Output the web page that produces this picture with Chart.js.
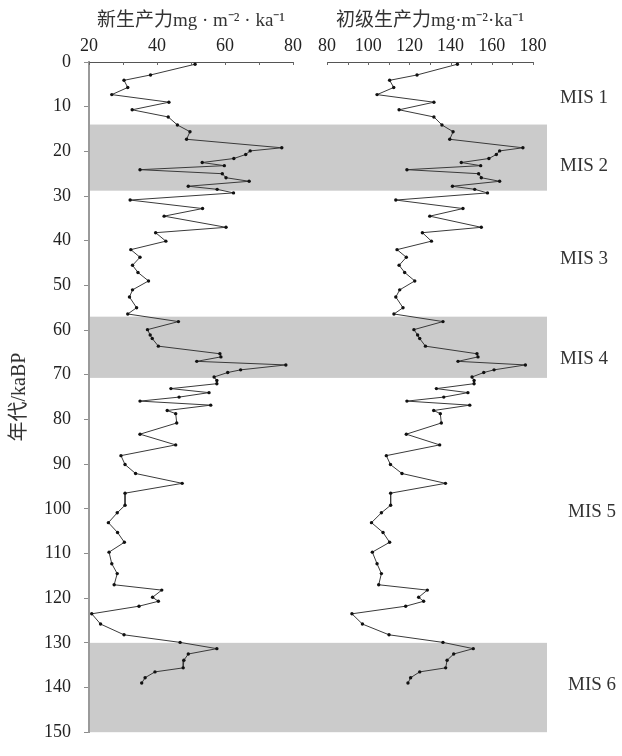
<!DOCTYPE html>
<html>
<head>
<meta charset="utf-8">
<script src="https://cdn.jsdelivr.net/npm/chart.js@4.4.1/dist/chart.umd.min.js"></script>
<style>
  html, body { margin: 0; padding: 0; background: #fff; }
  #wrap { width: 622px; height: 756px; }
</style>
</head>
<body>
<div id="wrap"><canvas id="profileChart" width="622" height="756"></canvas></div>
<script>
// sample ages (ka BP), shared by both curves
const ages = [
  0.5, 2.9, 4.1, 5.7, 7.3, 9.0, 10.7, 12.3, 14.1, 15.6,
  17.3, 19.2, 19.9, 20.7, 21.6, 22.5, 23.2, 24.1, 25.0, 25.9,
  26.7, 27.8, 28.5, 29.3, 30.9, 32.8, 34.5, 37.0, 38.2, 40.1,
  42.0, 43.7, 45.5, 47.1, 49.0, 51.0, 52.6, 55.0, 56.4, 58.1,
  59.9, 61.1, 61.9, 63.6, 65.3, 66.0, 67.0, 67.8, 68.9, 69.5,
  70.5, 71.3, 72.0, 73.1, 74.0, 75.0, 75.9, 76.8, 78.0, 78.7,
  80.8, 83.3, 85.7, 88.1, 90.1, 92.1, 94.3, 96.5, 99.2, 100.9,
  103.1, 105.3, 107.5, 109.7, 112.3, 114.5, 117.0, 118.2, 119.8, 120.7,
  121.8, 123.5, 125.8, 128.2, 129.9, 131.3, 132.5, 133.9, 135.6, 136.5,
  137.8, 139.0
];

// 新生产力 mg·m-2·ka-1
const newProd = [
  51.2, 38.1, 30.3, 31.4, 26.7, 43.5, 32.7, 43.3, 46.0, 49.7,
  48.7, 76.7, 67.4, 66.1, 62.6, 53.3, 59.8, 35.0, 59.2, 60.3,
  67.1, 49.2, 57.7, 62.5, 32.1, 53.4, 42.1, 60.3, 39.6, 42.6,
  32.3, 35.0, 32.8, 34.4, 37.5, 32.8, 31.9, 34.0, 31.4, 46.3,
  37.2, 38.0, 38.6, 40.4, 58.5, 58.8, 51.7, 77.9, 64.6, 60.8,
  56.8, 57.6, 57.6, 44.1, 55.3, 46.5, 35.0, 55.8, 43.0, 45.5,
  45.8, 35.0, 45.5, 29.4, 30.6, 33.7, 47.4, 30.6, 30.6, 28.3,
  25.7, 28.4, 30.4, 25.9, 26.7, 28.3, 27.4, 41.4, 38.7, 40.4,
  34.7, 20.8, 23.4, 30.3, 46.8, 57.6, 49.2, 47.9, 47.7, 39.4,
  36.5, 35.5
];

// 初级生产力 mg·m-2·ka-1
const primaryProd = [
  143.3, 123.7, 110.4, 112.4, 104.3, 131.9, 115.0, 131.9, 135.8, 141.2,
  139.6, 175.1, 163.8, 162.2, 158.6, 145.2, 154.6, 118.8, 153.6, 154.9,
  163.8, 140.9, 151.7, 157.9, 113.4, 146.0, 129.9, 154.9, 126.3, 130.7,
  114.0, 118.5, 115.0, 117.7, 122.6, 115.3, 113.4, 116.9, 112.5, 136.3,
  122.2, 124.0, 125.0, 127.8, 152.8, 153.3, 143.6, 176.3, 161.1, 156.1,
  150.4, 151.4, 151.4, 133.1, 148.4, 136.7, 118.8, 149.3, 131.8, 135.0,
  135.5, 118.5, 134.7, 108.8, 110.8, 116.4, 137.5, 110.9, 110.9, 106.4,
  101.6, 107.2, 110.4, 102.0, 104.3, 106.4, 105.1, 128.7, 124.5, 126.9,
  118.2, 92.1, 97.2, 110.1, 136.3, 151.0, 141.5, 138.3, 137.6, 125.0,
  120.6, 119.3
];

// glacial stages shaded grey (ka)
const glacialBands = [[14, 28.8], [57, 70.7], [130, 150]];

const misNames = ['MIS 1', 'MIS 2', 'MIS 3', 'MIS 4', 'MIS 5', 'MIS 6'];
const misLabelAges = [8, 23.3, 44, 66.5, 100.8, 139.5];

const ageRange = [0, 150];
const newRange = [20, 80];
const primaryRange = [80, 180];

const serif = "'Liberation Serif', 'Noto Sans CJK SC', serif";

// put the two top axes side by side instead of stacked
const panels = {
  id: 'panels',
  afterLayout(chart) {
    const a = chart.chartArea;
    const place = (s, l, r) => {
      s.left = l; s.right = r; s.width = r - l;
      s.top = 0; s.bottom = a.top; s.height = a.top;
      s.configure();
    };
    place(chart.scales.xL, a.left, a.left + 204);
    place(chart.scales.xR, a.left + 238, a.left + 444);
  },
  beforeDraw(chart) {
    const { ctx, chartArea: a, scales: { y } } = chart;
    ctx.save();
    ctx.fillStyle = '#cbcbcb';
    glacialBands.forEach(([from, to]) => {
      const y1 = y.getPixelForValue(from);
      const y2 = y.getPixelForValue(to);
      ctx.fillRect(a.left, y1, a.right - a.left, y2 - y1);
    });
    ctx.restore();
  },
  afterDraw(chart) {
    const { ctx, chartArea: a, scales } = chart;
    ctx.save();
    // small inward ticks on the top axes
    ctx.strokeStyle = '#666';
    ctx.lineWidth = 1;
    ['xL', 'xR'].forEach(id => {
      const s = scales[id];
      s.ticks.forEach(t => {
        const px = Math.round(s.getPixelForValue(t.value)) + 0.5;
        ctx.beginPath();
        ctx.moveTo(px, a.top);
        ctx.lineTo(px, a.top + 3);
        ctx.stroke();
      });
    });
    // stage labels
    ctx.fillStyle = '#333';
    ctx.font = '19px ' + serif;
    ctx.textBaseline = 'middle';
    ctx.textAlign = 'left';
    misNames.forEach((name, i) => {
      const x = a.right + (i >= 4 ? 21 : 13);
      ctx.fillText(name, x, scales.y.getPixelForValue(misLabelAges[i]));
    });
    ctx.restore();
  }
};

const lineStyle = {
  borderColor: '#3a3a3a',
  borderWidth: 1,
  pointRadius: 1.7,
  pointBackgroundColor: '#111',
  pointBorderWidth: 0,
  tension: 0,
  fill: false
};

const topAxis = (range, title) => ({
  type: 'linear',
  position: 'top',
  min: range[0],
  max: range[1],
  ticks: {
    stepSize: 10,
    autoSkip: false,
    maxRotation: 0,
    padding: 5,
    color: '#222',
    font: { family: serif, size: 18 },
    callback: v => (v % 20 === 0 ? v : '')
  },
  grid: { drawOnChartArea: false, drawTicks: false },
  border: { color: '#555', width: 1 },
  title: {
    display: true,
    text: title,
    color: '#333',
    padding: { top: 10, bottom: 0 },
    font: { family: serif, size: 19 }
  }
});

const xL = topAxis(newRange, '新生产力mg · m⁻² · ka⁻¹');
xL.afterFit = s => { s.height = 0; };
const xR = topAxis(primaryRange, '初级生产力mg·m⁻²·ka⁻¹');
xR.afterFit = s => { s.height = 62; };

new Chart(document.getElementById('profileChart'), {
  type: 'line',
  data: {
    datasets: [
      {
        label: '新生产力',
        data: ages.map((a, i) => ({ x: newProd[i], y: a })),
        xAxisID: 'xL',
        yAxisID: 'y',
        ...lineStyle
      },
      {
        label: '初级生产力',
        data: ages.map((a, i) => ({ x: primaryProd[i], y: a })),
        xAxisID: 'xR',
        yAxisID: 'y',
        ...lineStyle
      }
    ]
  },
  options: {
    responsive: false,
    animation: false,
    indexAxis: 'y',
    layout: { padding: { left: 0, right: 75, top: 0, bottom: 11 } },
    plugins: {
      legend: { display: false },
      tooltip: { enabled: false }
    },
    scales: {
      y: {
        type: 'linear',
        reverse: true,
        min: ageRange[0],
        max: ageRange[1],
        ticks: {
          stepSize: 10,
          padding: 13,
          color: '#222',
          font: { family: serif, size: 18 }
        },
        grid: { drawOnChartArea: false, drawTicks: true, tickLength: 5, color: '#8c8c8c' },
        border: { color: '#9a9a9a', width: 2 },
        title: {
          display: true,
          text: '年代/kaBP',
          color: '#333',
          padding: { top: 8, bottom: 0 },
          font: { family: serif, size: 20 }
        },
        afterFit: s => { s.width = 89; }
      },
      xL: xL,
      xR: xR
    }
  },
  plugins: [panels]
});
</script>
</body>
</html>
